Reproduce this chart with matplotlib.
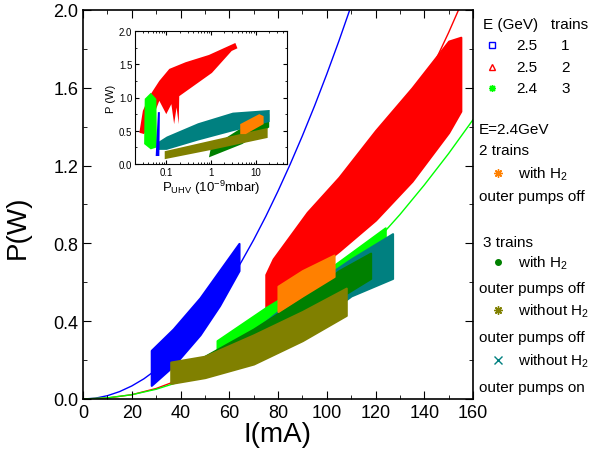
import numpy as np
import matplotlib
matplotlib.use("Agg")
import matplotlib.pyplot as plt
from matplotlib.ticker import MultipleLocator

plt.rcParams['font.family'] = ['Liberation Sans', 'DejaVu Sans']
plt.rcParams['mathtext.fontset'] = 'custom'
plt.rcParams['mathtext.rm'] = 'Liberation Sans'
plt.rcParams['mathtext.it'] = 'Liberation Sans:italic'

# colours
BLUE = '#0000ff'
RED = '#ff0000'
LIME = '#00ff00'
DKGREEN = '#008000'
TEAL = '#008080'
OLIVE = '#808000'
ORANGE = '#ff8000'

# ---- main plot: data bands (current I in mA, power P in W) ----
blue_I = [28, 37, 48, 56, 64]
blue_lo = [0.07, 0.17, 0.33, 0.48, 0.66]
blue_hi = [0.25, 0.36, 0.52, 0.66, 0.80]

red_I = [75, 78, 92, 105, 120, 135, 150, 155]
red_lo = [0.46, 0.50, 0.63, 0.76, 0.92, 1.12, 1.37, 1.48]
red_hi = [0.64, 0.72, 0.96, 1.14, 1.38, 1.60, 1.84, 1.86]

lime_I = [55, 75, 100, 124]
lime_lo = [0.22, 0.39, 0.58, 0.80]
lime_hi = [0.30, 0.47, 0.66, 0.88]

teal_I = [50, 60, 75, 90, 110, 127]
teal_lo = [0.15, 0.17, 0.23, 0.34, 0.53, 0.62]
teal_hi = [0.20, 0.27, 0.40, 0.55, 0.72, 0.85]

green_I = [50, 70, 90, 105, 118]
green_lo = [0.17, 0.28, 0.40, 0.52, 0.62]
green_hi = [0.22, 0.36, 0.52, 0.66, 0.75]

olive_I = [36, 50, 70, 90, 108]
olive_lo = [0.08, 0.11, 0.18, 0.30, 0.43]
olive_hi = [0.19, 0.22, 0.33, 0.45, 0.57]

orange_I = [80, 90, 103]
orange_lo = [0.45, 0.53, 0.63]
orange_hi = [0.58, 0.66, 0.74]

# fit curves
blue_fit_I = [0, 5, 10, 15, 20, 25, 30, 35, 40, 45, 50, 55, 60, 65, 70, 75, 80,
              85, 90, 95, 100, 105, 110]
blue_fit_P = [0, 0.004, 0.017, 0.038, 0.067, 0.104, 0.15, 0.205, 0.267, 0.338,
              0.418, 0.505, 0.601, 0.706, 0.818, 0.939, 1.069, 1.207, 1.353,
              1.507, 1.67, 1.841, 2.021]
red_fit_I = [0, 10, 20, 30, 40, 50, 60, 70, 80, 90, 100, 110, 120, 130, 140, 150, 160]
red_fit_P = [0, 0.005, 0.022, 0.054, 0.101, 0.166, 0.249, 0.349, 0.470, 0.609,
             0.769, 0.949, 1.150, 1.373, 1.617, 1.884, 2.17]
green_fit_I = [0, 10, 20, 30, 40, 50, 60, 70, 80, 90, 100, 110, 120, 130, 140, 150, 160]
green_fit_P = [0, 0.006, 0.022, 0.050, 0.090, 0.140, 0.202, 0.275, 0.359, 0.454,
               0.561, 0.679, 0.808, 0.948, 1.100, 1.262, 1.436]

# ---- inset: P vs UHV pressure (1e-9 mbar), polygons ----
in_red_x = [0.025, 0.030, 0.042, 0.07, 0.117, 0.27, 0.9, 3.5, 3.9, 2.9, 1.05,
            0.195, 0.19, 0.17, 0.15, 0.13, 0.10, 0.07, 0.05, 0.032]
in_red_P = [0.47, 0.80, 1.02, 1.25, 1.43, 1.53, 1.64, 1.82, 1.74, 1.70, 1.37,
            1.02, 0.60, 0.85, 0.60, 0.90, 0.75, 0.95, 0.70, 0.45]
in_lime_x = [0.032, 0.033, 0.045, 0.060, 0.062, 0.045]
in_lime_P = [0.30, 0.98, 1.07, 0.98, 0.25, 0.22]
in_blue_x = [0.058, 0.065, 0.072, 0.070]
in_blue_P = [0.12, 0.78, 0.78, 0.12]
in_green_x = [0.9, 5, 20, 20, 5, 1]
in_green_P = [0.10, 0.30, 0.55, 0.75, 0.55, 0.25]
in_teal_x = [0.065, 0.1, 0.5, 3, 20]
in_teal_lo = [0.22, 0.22, 0.36, 0.50, 0.64]
in_teal_hi = [0.34, 0.42, 0.62, 0.78, 0.82]
in_olive_x = [0.09, 1, 18]
in_olive_lo = [0.08, 0.22, 0.40]
in_olive_hi = [0.20, 0.36, 0.55]
in_orange_x = [4.5, 4.5, 12, 15, 15, 6]
in_orange_P = [0.45, 0.60, 0.75, 0.72, 0.60, 0.45]

fig = plt.figure(figsize=(6.1, 4.56), dpi=100)
ax = fig.add_axes([83/610, 56/456, 390/610, 389/456])

ax.plot(blue_fit_I, blue_fit_P, color=BLUE, lw=1, zorder=1)
ax.plot(red_fit_I, red_fit_P, color=RED, lw=1, zorder=1)
ax.plot(green_fit_I, green_fit_P, color=LIME, lw=1, zorder=1)

bands = [(blue_I, blue_lo, blue_hi, BLUE),
         (red_I, red_lo, red_hi, RED),
         (lime_I, lime_lo, lime_hi, LIME),
         (teal_I, teal_lo, teal_hi, TEAL),
         (green_I, green_lo, green_hi, DKGREEN),
         (olive_I, olive_lo, olive_hi, OLIVE),
         (orange_I, orange_lo, orange_hi, ORANGE)]
for k, (x, lo, hi, c) in enumerate(bands):
    ax.fill_between(x, lo, hi, color=c, lw=1.5, edgecolor=c, zorder=2 + k)

ax.set_xlim(0, 160)
ax.set_ylim(0, 2.0)
ax.xaxis.set_major_locator(MultipleLocator(20))
ax.xaxis.set_minor_locator(MultipleLocator(10))
ax.yaxis.set_major_locator(MultipleLocator(0.4))
ax.yaxis.set_minor_locator(MultipleLocator(0.2))
ax.yaxis.set_major_formatter(matplotlib.ticker.FormatStrFormatter('%.1f'))
ax.tick_params(which='both', direction='in', top=True, right=True, labelsize=13)
ax.tick_params(which='major', length=6)
ax.tick_params(which='minor', length=3)
ax.set_xlabel('I(mA)', fontsize=20, labelpad=0)
ax.set_ylabel('P(W)', fontsize=20)
ax.yaxis.set_label_coords(-0.135, 0.445)
for s in ax.spines.values():
    s.set_linewidth(1.2)

# inset
axi = fig.add_axes([135/610, 291/456, 152/610, 133/456])
axi.fill(in_red_x, in_red_P, color=RED, lw=0)
axi.fill(in_lime_x, in_lime_P, color=LIME, lw=0)
axi.fill(in_green_x, in_green_P, color=DKGREEN, lw=0)
axi.fill_between(in_teal_x, in_teal_lo, in_teal_hi, color=TEAL, lw=0)
axi.fill_between(in_olive_x, in_olive_lo, in_olive_hi, color=OLIVE, lw=0)
axi.fill(in_blue_x, in_blue_P, color=BLUE, lw=0)
axi.fill(in_orange_x, in_orange_P, color=ORANGE, lw=0)
axi.set_xscale('log')
axi.set_xlim(0.02, 50)
axi.set_ylim(0, 2.0)
axi.set_xticks([0.1, 1, 10])
axi.set_xticklabels(['0.1', '1', '10'])
axi.yaxis.set_major_locator(MultipleLocator(0.5))
axi.yaxis.set_minor_locator(MultipleLocator(0.25))
axi.yaxis.set_major_formatter(matplotlib.ticker.FormatStrFormatter('%.1f'))
axi.tick_params(which='both', direction='in', top=True, right=True, labelsize=7, pad=2)
axi.tick_params(which='major', length=3)
axi.tick_params(which='minor', length=1.5)
axi.set_xlabel(r'P$_{\mathrm{UHV}}$ (10$^{-9}$mbar)', fontsize=9.5, labelpad=1)
axi.set_ylabel('P (W)', fontsize=8, labelpad=2)

# legend drawn on an overlay in pixel units
lax = fig.add_axes([0, 0, 1, 1], zorder=10)
lax.set_xlim(0, 610)
lax.set_ylim(456, 0)
lax.axis('off')
fs = 11
lax.text(483, 25, 'E (GeV)   trains', fontsize=fs, va='center')
rows = [(46, 's', BLUE, '2.5', '1', 'none'),
        (68, '^', RED, '2.5', '2', 'none'),
        (89, (8, 2, 0), LIME, '2.4', '3', LIME)]
for y, m, c, e, t, fc in rows:
    lax.plot(492, y, marker=m, color=c, mfc=fc, ms=5, mew=1, ls='none')
    lax.text(516, y, e, fontsize=fs, va='center')
    lax.text(561, y, t, fontsize=fs, va='center')
lax.text(479, 130, 'E=2.4GeV', fontsize=fs, va='center')
lax.text(479, 151, '2 trains', fontsize=fs, va='center')
lax.text(483, 243, '3 trains', fontsize=fs, va='center')
entries = [(174, (8, 2, 0), ORANGE, 'none', r'with H$_2$', 197, 'outer pumps off'),
           (263, 'o', DKGREEN, DKGREEN, r'with H$_2$', 289, 'outer pumps off'),
           (311, (8, 2, 0), OLIVE, 'none', r'without H$_2$', 338, 'outer pumps off'),
           (361, 'x', TEAL, 'none', r'without H$_2$', 388, 'outer pumps on')]
for y, m, c, fc, lab, y2, lab2 in entries:
    ms = 4 if m == 'o' else 6
    lax.plot(498, y, marker=m, color=c, mfc=fc, ms=ms, mew=1, ls='none')
    lax.text(518, y, lab, fontsize=fs, va='center')
    lax.text(479, y2, lab2, fontsize=fs, va='center')

fig.savefig('out.png', dpi=100)
